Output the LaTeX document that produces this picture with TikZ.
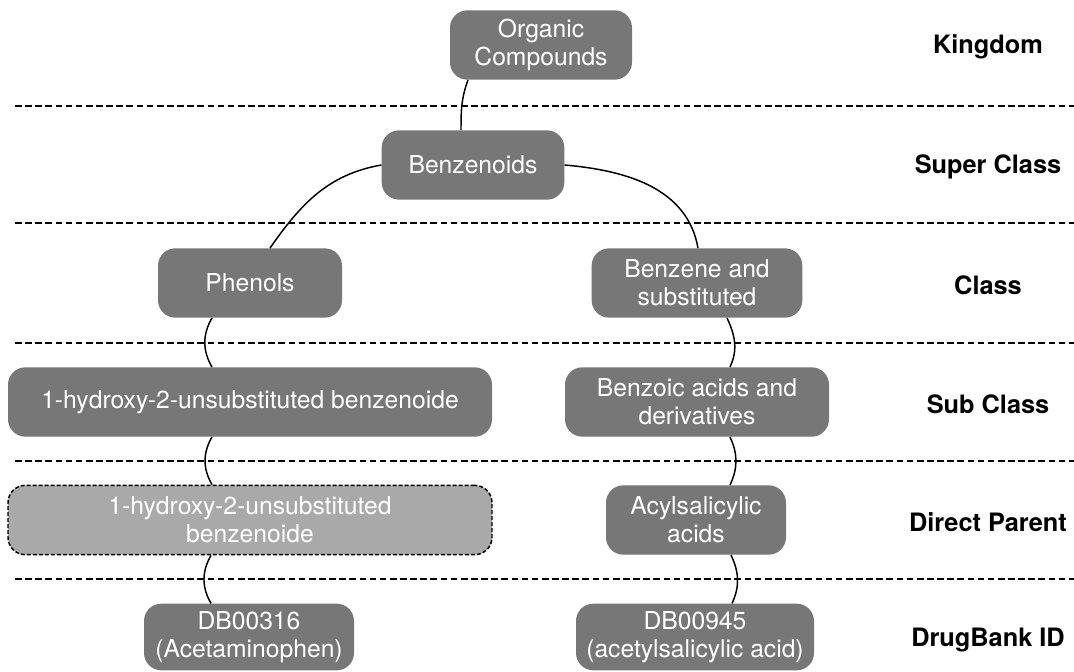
\documentclass[tikz,border=0pt]{standalone}
\usepackage{fontspec}
\setmainfont{TeX Gyre Heros}
\usetikzlibrary{calc}
\definecolor{boxgray}{HTML}{777777}
\definecolor{lightbox}{HTML}{A9A9A9}

\begin{document}
\begin{tikzpicture}[x=0.75pt,y=0.75pt,
  box/.style={rectangle, rounded corners=13pt, fill=boxgray, text=white, align=center,
    inner sep=0pt, minimum height=52pt, font=\fontsize{18.5}{21}\selectfont},
  guess/.style={box, fill=lightbox, draw=black, dash pattern=on 3pt off 1.5pt, line width=1.1pt},
  level/.style={font=\bfseries\fontsize{19}{22}\selectfont},
  sep/.style={dash pattern=on 5pt off 2.6pt, line width=1.1pt},
  link/.style={line width=1.1pt}]
  \useasboundingbox (0,0) rectangle (1074,-671);

  % level separators
  \foreach \y in {106,223,343,461,579}
    \draw[sep] (15,-\y) -- (1074,-\y);

  \node[box, minimum width=136.5pt] (org) at (541,-45) {Organic\\Compounds};
  \node[box, minimum width=137pt] (benz) at (473,-165) {Benzenoids};
  \node[box, minimum width=138pt] (phen) at (250,-283) {Phenols};
  \node[box, minimum width=158pt] (bsub) at (697,-283) {Benzene and\\substituted};
  \node[box, minimum width=363pt] (sub1) at (250,-402) {1-hydroxy-2-unsubstituted benzenoide};
  \node[box, minimum width=198pt] (bacid) at (697,-402) {Benzoic acids and\\derivatives};
  \node[guess, minimum width=363pt] (dp1) at (250,-520) {1-hydroxy-2-unsubstituted\\benzenoide};
  \node[box, minimum width=135pt] (acyl) at (696,-520) {Acylsalicylic\\acids};
  \node[box, minimum width=157.5pt, minimum height=50pt] (db1) at (249,-637) {DB00316\\(Acetaminophen)};
  \node[box, minimum width=178.5pt, minimum height=50pt] (db2) at (695,-637) {DB00945\\(acetylsalicylic acid)};

  \node[level] (kingdom) at (988,-47) {Kingdom};
  \node[level] (super) at (988,-167) {Super Class};
  \node[level] (class) at (988,-285) {Class};
  \node[level] (subclass) at (988,-404) {Sub Class};
  \node[level] (parent) at (988,-522) {Direct Parent};
  \node[level] (drugbank) at (988,-640) {DrugBank ID};

  \draw[link] ($(org.south)+(-73,0)$) to[out=-110,in=90] ($(benz.north)+(-12,0)$);
  \draw[link] (benz.west) to[out=190,in=55] ($(phen.north)+(20,0)$);
  \draw[link] (benz.east) to[out=-5,in=100] ($(bsub.north)+(1,0)$);
  \draw[link] ($(phen.south)+(-38,0)$) to[out=-120,in=120] ($(sub1.north)+(-38,0)$);
  \draw[link] ($(bsub.south)+(30,0)$) to[out=-65,in=65] ($(bacid.north)+(33,0)$);
  \draw[link] ($(sub1.south)+(-38,0)$) to[out=-120,in=120] ($(dp1.north)+(-38,0)$);
  \draw[link] ($(bacid.south)+(33,0)$) to[out=-65,in=65] ($(acyl.north)+(34,0)$);
  \draw[link] ($(dp1.south)+(-39,0)$) to[out=-120,in=120] ($(db1.north)+(-38,0)$);
  \draw[link] ($(acyl.south)+(35,0)$) to[out=-65,in=65] ($(db2.north)+(37,0)$);
\end{tikzpicture}
\end{document}
